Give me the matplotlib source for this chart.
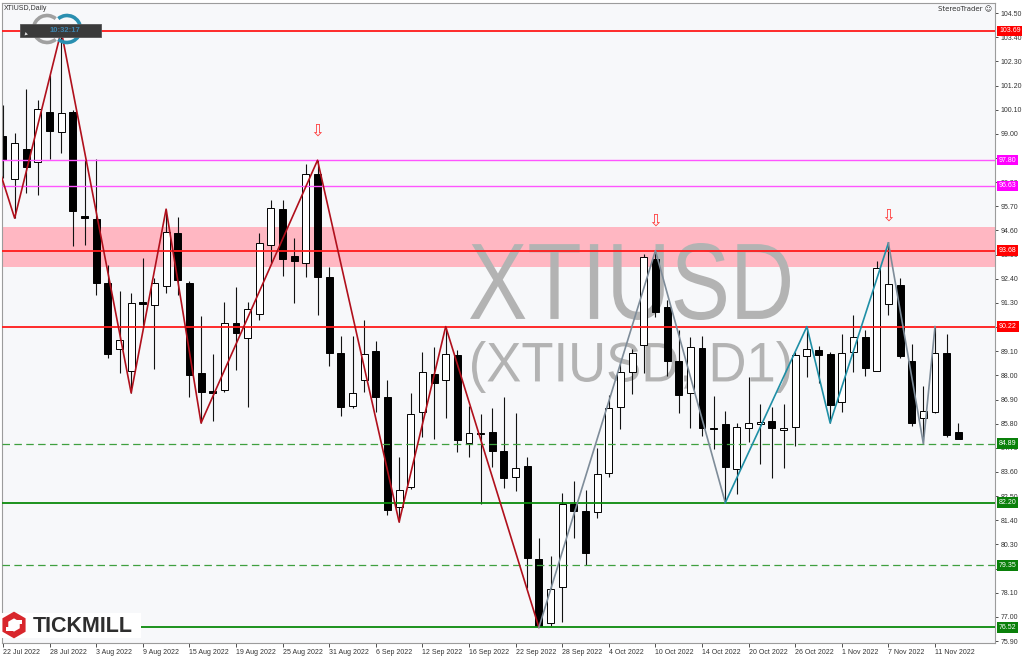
import numpy as np
import pandas as pd
import matplotlib
matplotlib.use("Agg")
import matplotlib.pyplot as plt
from matplotlib.patches import Rectangle, Arc, RegularPolygon, PathPatch
from matplotlib.textpath import TextPath
from matplotlib.font_manager import FontProperties
from matplotlib.transforms import Affine2D

# daily XTIUSD candles, 22 Jul 2022 .. 15 Nov 2022
dates = pd.bdate_range("2022-07-22", periods=83)
opens = [98.90, 96.94, 98.31, 97.71, 99.99, 99.08, 99.99, 95.26, 95.12, 92.21,
         89.20, 88.20, 91.34, 91.20, 92.07, 94.48, 92.21, 88.11, 87.29, 87.33,
         90.38, 89.70, 90.79, 93.94, 95.57, 93.43, 93.12, 97.17, 92.48, 89.02,
         86.60, 87.79, 89.11, 87.01, 82.00, 82.91, 86.33, 88.06, 87.79, 88.93,
         84.92, 85.37, 85.42, 84.55, 83.37, 83.87, 79.64, 76.72, 78.36, 82.14,
         81.82, 81.78, 83.55, 86.56, 88.15, 89.38, 93.30, 91.11, 88.65, 87.20,
         89.24, 85.60, 85.78, 83.74, 85.60, 85.78, 85.92, 85.51, 85.65, 88.88,
         89.15, 88.97, 86.79, 89.06, 89.75, 88.20, 91.25, 92.11, 88.65, 86.06,
         86.33, 89.02, 85.42]
highs = [100.31, 99.04, 101.04, 100.54, 101.68, 103.69, 100.08, 97.81, 97.85, 93.02,
         91.84, 91.75, 93.34, 92.43, 95.57, 95.21, 92.30, 90.70, 88.98, 91.34,
         92.02, 91.34, 94.48, 95.98, 95.98, 94.25, 97.62, 97.80, 92.93, 89.79,
         89.79, 90.52, 89.56, 87.79, 84.28, 87.20, 89.06, 89.29, 90.22, 89.15,
         86.60, 86.24, 86.51, 87.01, 86.28, 84.28, 80.59, 79.77, 82.64, 83.19,
         82.78, 84.69, 87.10, 88.61, 89.20, 93.53, 93.68, 91.43, 90.06, 89.75,
         89.79, 87.06, 86.38, 85.83, 87.92, 86.69, 86.56, 86.69, 89.06, 90.22,
         89.34, 89.06, 89.88, 90.75, 90.06, 93.21, 94.03, 92.43, 89.43, 87.51,
         90.22, 89.88, 85.83]
lows = [96.99, 95.16, 96.30, 96.21, 97.85, 98.12, 93.89, 93.94, 91.66, 88.79,
        88.11, 87.20, 90.29, 88.29, 91.75, 91.66, 87.01, 85.83, 85.92, 87.24,
        88.24, 86.56, 90.52, 93.12, 92.52, 91.29, 92.48, 90.75, 88.43, 86.15,
        86.51, 87.24, 86.33, 81.64, 81.32, 82.82, 85.19, 85.10, 86.06, 84.51,
        84.28, 82.14, 83.83, 82.87, 82.73, 78.32, 76.52, 76.59, 76.77, 80.59,
        79.36, 81.50, 83.37, 85.56, 87.15, 88.11, 90.66, 87.97, 86.28, 85.60,
        85.24, 84.65, 82.20, 82.60, 84.96, 83.96, 83.33, 83.78, 84.78, 87.92,
        87.65, 85.83, 86.33, 88.15, 87.97, 88.20, 90.75, 88.79, 85.69, 84.89,
        86.28, 85.19, 85.10]
closes = [97.81, 98.58, 97.49, 100.13, 99.13, 99.95, 95.48, 95.17, 92.21, 88.97,
          89.61, 91.29, 91.25, 92.21, 94.53, 92.34, 88.02, 87.24, 87.20, 90.38,
          89.93, 91.04, 94.03, 95.62, 93.30, 93.21, 97.17, 92.48, 89.02, 86.56,
          87.20, 88.97, 87.01, 81.87, 82.78, 86.24, 88.15, 87.65, 88.97, 85.06,
          85.37, 85.33, 84.55, 83.33, 83.78, 79.68, 76.59, 78.27, 82.14, 81.82,
          79.91, 83.51, 86.51, 88.15, 89.02, 93.39, 90.88, 88.65, 87.10, 89.29,
          85.60, 85.56, 83.83, 85.65, 85.83, 85.88, 85.60, 85.60, 88.93, 89.20,
          88.93, 86.65, 89.02, 89.75, 88.33, 92.89, 92.16, 88.88, 85.83, 86.38,
          89.02, 85.28, 85.10]

# zigzag swings (bar index, price)
zz_red_idx = [-1, 1, 5, 11, 14, 17, 27, 34, 38, 46]
zz_red_val = [98.50, 95.16, 103.69, 87.20, 95.57, 85.83, 97.80, 81.32, 90.22, 76.52]
zz_grey_a_idx = [46, 56, 62]
zz_grey_a_val = [76.52, 93.68, 82.20]
zz_teal_idx = [62, 69, 71, 76]
zz_teal_val = [82.20, 90.22, 85.83, 94.03]
zz_grey_b_idx = [76, 79, 80]
zz_grey_b_val = [94.03, 84.89, 90.22]

# horizontal levels
red_levels = [103.69, 93.68, 90.22]
magenta_levels = [97.80, 96.63]
green_levels = [82.20, 76.52]
green_dashed_levels = [84.89, 79.35]
zone = (92.93, 94.75)
arrow_idx = [27, 56, 76]
arrow_val = [99.17, 95.07, 95.26]

yticks = [75.90, 77.00, 78.10, 79.20, 80.30, 81.40, 82.50, 83.60, 84.70, 85.80,
          86.90, 88.00, 89.10, 90.20, 91.30, 92.40, 93.50, 94.60, 95.70, 96.80,
          97.90, 99.00, 100.10, 101.20, 102.30, 103.40, 104.50]

W_PX, H_PX = 1024, 658
AX_L, AX_T, AX_R, AX_B = 2, 3, 995, 643
SMALL = 5.0
FONT = "Liberation Sans"

plt.rcParams["font.family"] = [FONT, "DejaVu Sans"]

fig = plt.figure(figsize=(W_PX / 100, H_PX / 100), dpi=100)
fig.patch.set_facecolor("white")
ax = fig.add_axes([AX_L / W_PX, (H_PX - AX_B) / H_PX,
                   (AX_R - AX_L) / W_PX, (AX_B - AX_T) / H_PX])
ax.set_facecolor("#F7F8FA")

x = np.arange(len(opens))
o = np.array(opens); h = np.array(highs); l = np.array(lows); c = np.array(closes)

ax.axhspan(*zone, color="#FFB7C2", lw=0, zorder=0.5)


def watermark(text, x0, y0, x1, y1):
    tp = TextPath((0, 0), text, size=1, prop=FontProperties(family=FONT))
    bb = tp.get_extents()
    aw, ah = AX_R - AX_L, AX_B - AX_T
    fx0, fx1 = (x0 - AX_L) / aw, (x1 - AX_L) / aw
    fy0, fy1 = (AX_B - y1) / ah, (AX_B - y0) / ah
    tr = (Affine2D().translate(-bb.x0, -bb.y0)
          .scale((fx1 - fx0) / bb.width, (fy1 - fy0) / bb.height)
          .translate(fx0, fy0) + ax.transAxes)
    ax.add_patch(PathPatch(tp, transform=tr, fc="#B3B3B3", ec="none", zorder=1))


watermark("XTIUSD", 470, 243, 790, 320)
watermark("(XTIUSD, D1)", 472, 341, 790, 393)

# candles
up = c >= o
ax.vlines(x, l, h, color="#111111", lw=0.8, zorder=2)
ax.bar(x, np.abs(c - o), bottom=np.minimum(o, c), width=0.6,
       color=np.where(up, "white", "black"), edgecolor="black", lw=0.7, zorder=2.2)

for v in red_levels:
    ax.axhline(v, color="#FF1A1A", lw=1.3, zorder=3)
for v in magenta_levels:
    ax.axhline(v, color="#FF55FF", lw=1.0, zorder=3)
for v in green_levels:
    ax.axhline(v, color="#0B8A0B", lw=1.3, zorder=3)
for v in green_dashed_levels:
    ax.axhline(v, color="#3FA03F", lw=0.9, dashes=(6, 3.5), zorder=3)

ax.plot(zz_red_idx, zz_red_val, color="#B0101C", lw=1.2, zorder=4)
ax.plot(zz_grey_a_idx, zz_grey_a_val, color="#7E8C99", lw=1.2, zorder=4)
ax.plot(zz_teal_idx, zz_teal_val, color="#1F8FA6", lw=1.2, zorder=4)
ax.plot(zz_grey_b_idx, zz_grey_b_val, color="#7E8C99", lw=1.2, zorder=4)

for i, v in zip(arrow_idx, arrow_val):
    ax.text(i, v, "\u21e9", color="#FF3B3B", fontsize=12, ha="center", va="center",
            family="DejaVu Sans", zorder=5)

# axes, ticks
ax.set_xlim(-0.086, 85.15)
ax.set_ylim(75.81, 104.96)
ax.yaxis.tick_right()
ax.set_yticks(yticks)
ax.set_yticklabels([f"{v:.2f}" for v in yticks])
ax.set_xticks(range(0, 81, 4))
ax.set_xticklabels([d.strftime("%-d %b %Y") for d in dates[0:81:4]])
for lbl in ax.get_xticklabels():
    lbl.set_ha("left")
ax.tick_params(axis="y", length=2, width=0.6, pad=2, labelsize=SMALL,
               colors="#333333")
ax.tick_params(axis="x", length=3, width=0.6, pad=1.5, labelsize=SMALL,
               colors="#333333")
for s in ax.spines.values():
    s.set_color("#9C9C9C")
    s.set_linewidth(0.8)

# price tags on the right axis
ytr = ax.get_yaxis_transform()
tags = ([(v, "#FF0000") for v in red_levels] + [(v, "#FF00FF") for v in magenta_levels]
        + [(v, "#0A800A") for v in green_levels + green_dashed_levels])
for v, col in tags:
    ax.text(1.0 + 4 / (AX_R - AX_L), v, f"{v:.2f}", transform=ytr, fontsize=SMALL,
            color="white", ha="left", va="center", clip_on=False, zorder=6,
            bbox=dict(boxstyle="square,pad=0.25", fc=col, ec="none"))

fig.text(4 / W_PX, 1 - 8 / H_PX, "XTIUSD,Daily", fontsize=SMALL, color="#333333",
         va="center", ha="left")
fig.text(992 / W_PX, 1 - 9 / H_PX, "StereoTrader \u263a", fontsize=SMALL,
         color="#333333", va="center", ha="right", family=["DejaVu Sans"])

# overlay in pixel coordinates for the clock widget and the logo
ov = fig.add_axes([0, 0, 1, 1])
ov.set_xlim(0, W_PX)
ov.set_ylim(H_PX, 0)
ov.axis("off")
ov.patch.set_alpha(0)
ov.set_zorder(10)

ov.add_patch(Arc((47, 29), 27, 27, theta1=50, theta2=310, color="#A0A0A0", lw=2.6))
ov.add_patch(Arc((67, 29), 27, 27, theta1=-130, theta2=130, color="#2A8FB0", lw=2.6))
ov.add_patch(Rectangle((20, 24), 81, 13, fc="#3A3A3A", ec="#555555", lw=0.6))
ov.add_patch(RegularPolygon((26, 34), 3, radius=2, orientation=np.pi / 4,
                            fc="#DDDDDD", ec="none"))
ov.text(65, 30.5, "10:32:17", color="#3E86B0", fontsize=5.5, fontweight="bold",
        ha="center", va="center")

ov.add_patch(Rectangle((0, 613), 141, 25, fc="white", ec="none"))
ov.add_patch(RegularPolygon((14, 625), 6, radius=10, orientation=0,
                            fc="none", ec="#D8262C", lw=4.2))
ov.add_patch(Rectangle((14, 620), 8, 4, fc="white", ec="none"))
ov.add_patch(Rectangle((6, 627), 8, 4, fc="white", ec="none"))
ov.text(33, 626, "TICKMILL", fontsize=15.5, fontweight="bold", color="#2E2E2E",
        ha="left", va="center")

fig.savefig("out.png", dpi=100, facecolor="white")
